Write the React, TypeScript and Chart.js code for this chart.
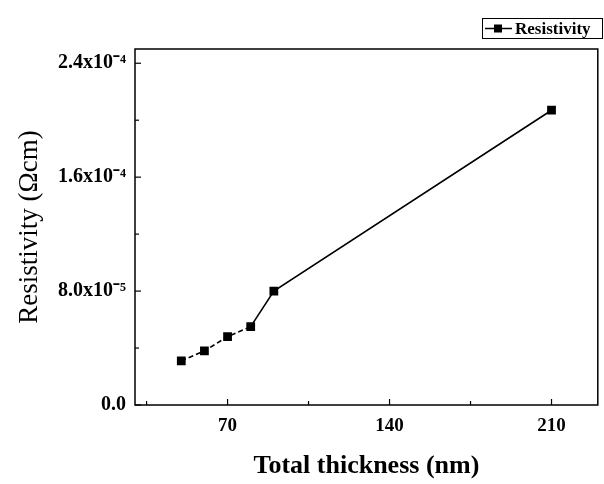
import React, { useEffect, useRef } from "react";
import { Chart, registerables } from "chart.js";

Chart.register(...registerables);

// Measured series: total film thickness (nm) vs. resistivity (Ω·cm)
const thickness = [50, 60, 70, 80, 90, 210];
const resistivity = [3.1e-5, 3.8e-5, 4.8e-5, 5.5e-5, 8.0e-5, 2.07e-4];

// Axis ticks (major ticks carry labels, minor ticks are blank)
const xTickValues = [35, 70, 105, 140, 175, 210];
const xTickLabels = ["", "70", "", "140", "", "210"];
const yTickValues = [0, 4e-5, 8e-5, 1.2e-4, 1.6e-4, 2.0e-4, 2.4e-4];
const yTickLabels = ["0.0", "", "8.0x10⁻⁵", "", "1.6x10⁻⁴", "", "2.4x10⁻⁴"];

const seriesLabel = "Resistivity";
const xTitle = "Total thickness (nm)";
const yTitle = "Resistivity (Ωcm)";

const SERIF = "'Liberation Serif', 'Times New Roman', serif";

// Frame around the plot area, inward tick marks and the boxed legend
const framePlugin = {
  id: "frameTicksLegend",
  afterDraw(chart: any) {
    const { ctx, chartArea } = chart;
    const { left, right, top, bottom } = chartArea;
    const xs = chart.scales.x;
    const ys = chart.scales.y;
    ctx.save();
    ctx.strokeStyle = "#000";
    ctx.lineWidth = 1.5;
    ctx.strokeRect(left, top, right - left, bottom - top);

    ctx.lineWidth = 1.2;
    xTickValues.forEach((v, i) => {
      const px = xs.getPixelForValue(v);
      const len = xTickLabels[i] ? 6 : 4;
      ctx.beginPath();
      ctx.moveTo(px, bottom);
      ctx.lineTo(px, bottom - len);
      ctx.stroke();
    });
    yTickValues.forEach((v, i) => {
      const py = ys.getPixelForValue(v);
      const len = yTickLabels[i] ? 6 : 4;
      ctx.beginPath();
      ctx.moveTo(left, py);
      ctx.lineTo(left + len, py);
      ctx.stroke();
    });

    // legend box
    const bx = 482, by = 18, bw = 120, bh = 20;
    ctx.lineWidth = 1;
    ctx.strokeRect(bx + 0.5, by + 0.5, bw, bh);
    const cy = by + bh / 2 + 0.5;
    ctx.lineWidth = 1.5;
    ctx.beginPath();
    ctx.moveTo(bx + 3, cy);
    ctx.lineTo(bx + 30, cy);
    ctx.stroke();
    ctx.fillStyle = "#000";
    ctx.fillRect(bx + 12, cy - 4, 8, 8);
    ctx.font = `bold 17px ${SERIF}`;
    ctx.textBaseline = "middle";
    ctx.textAlign = "left";
    ctx.fillText(seriesLabel, bx + 33, cy + 1);
    ctx.restore();
  },
};

export default function App() {
  const canvasRef = useRef<HTMLCanvasElement | null>(null);

  useEffect(() => {
    const canvas = canvasRef.current;
    if (!canvas) return;
    const chart = new Chart(canvas, {
      type: "scatter",
      data: {
        datasets: [
          {
            label: seriesLabel,
            data: thickness.map((x, i) => ({ x, y: resistivity[i] })),
            showLine: true,
            borderColor: "#000",
            backgroundColor: "#000",
            borderWidth: 1.6,
            pointStyle: "rect",
            pointRadius: 6.2,
            pointHoverRadius: 6.2,
            pointBorderWidth: 0,
            segment: {
              borderDash: (ctx: any) => (ctx.p1DataIndex <= 3 ? [5, 3] : undefined),
            },
          },
        ],
      },
      options: {
        responsive: false,
        animation: false,
        layout: { padding: { top: 49, right: 6, left: 0, bottom: 0 } },
        plugins: {
          legend: { display: false },
          tooltip: { enabled: false },
        },
        scales: {
          x: {
            type: "linear",
            min: 30,
            max: 230,
            afterBuildTicks: (scale: any) => {
              scale.ticks = xTickValues.map((value) => ({ value }));
            },
            afterFit: (scale: any) => {
              scale.height = 79;
            },
            grid: { display: false, drawTicks: false },
            border: { display: false },
            ticks: {
              autoSkip: false,
              maxRotation: 0,
              padding: 10,
              color: "#000",
              font: { family: SERIF, size: 19, weight: "bold" },
              callback: (_v: any, index: number) => xTickLabels[index],
            },
            title: {
              display: true,
              text: xTitle,
              color: "#000",
              font: { family: SERIF, size: 26, weight: "bold" },
              padding: { top: 0, bottom: 2 },
            },
          },
          y: {
            type: "linear",
            min: 0,
            max: 2.5e-4,
            afterBuildTicks: (scale: any) => {
              scale.ticks = yTickValues.map((value) => ({ value }));
            },
            afterFit: (scale: any) => {
              scale.width = 135;
            },
            grid: { display: false, drawTicks: false },
            border: { display: false },
            ticks: {
              autoSkip: false,
              padding: 9,
              color: "#000",
              font: { family: SERIF, size: 20, weight: "bold" },
              callback: (_v: any, index: number) => yTickLabels[index],
            },
            title: {
              display: true,
              text: yTitle,
              color: "#000",
              font: { family: SERIF, size: 27, weight: "normal" },
              padding: { top: 14, bottom: 0 },
            },
          },
        },
      },
      plugins: [framePlugin],
    });
    return () => chart.destroy();
  }, []);

  return (
    <div style={{ position: "fixed", left: 0, top: 0, width: 604, height: 484, background: "#fff" }}>
      <canvas ref={canvasRef} width={604} height={484} />
    </div>
  );
}
